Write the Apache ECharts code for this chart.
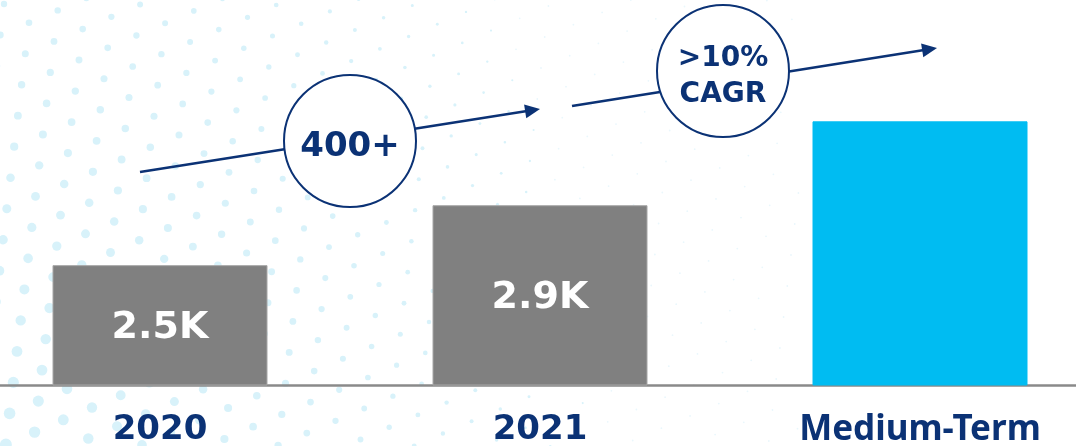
<!DOCTYPE html>
<html>
<head>
<meta charset="utf-8">
<script src="https://cdn.jsdelivr.net/npm/echarts@6/dist/echarts.min.js"></script>
<style>
  html, body { margin: 0; padding: 0; background: #fff; }
  #chart { width: 1076px; height: 446px; }
</style>
</head>
<body>
<div id="chart"></div>
<script>
// chart data
const categories = ["2020", "2021", "Medium-Term"];
const values = [2.5, 2.9, 3.46]; // thousands
const valueLabels = ["2.5K", "2.9K", ""];
const barColors = ["#808080", "#808080", "#00bcf2"];
const growthNotes = ["400+", ">10%\nCAGR"];

const NAVY = "#0b3275";

const chart = echarts.init(document.getElementById("chart"));

// background dot pattern (decoration only)
const buildDots = () => {
  const dots = [];
  const a = [25, 18.7];
  const b = [28.7, -12.3];
  for (let i = -30; i < 40; i++) {
    for (let j = -30; j < 50; j++) {
      const x = 4 + i * a[0] + j * b[0];
      const y = 4 + i * a[1] + j * b[1];
      if (x < -6 || x > 1080 || y < -6 || y > 450) continue;
      const d = Math.sqrt(x * x + (446 - y) * (446 - y) * 0.55);
      let r = 6 - d * 0.0085;
      let fill = "#d8f2fa";
      if (r < 1) {
        if (x > 800) continue;
        r = 0.9;
        fill = "#eaf7fc";
      }
      dots.push({
        type: "circle",
        silent: true,
        z: 0,
        shape: { cx: x, cy: y, r: r },
        style: { fill: fill }
      });
    }
  }
  return dots;
};

// arrow with a circled note
const buildArrow = (x1, y1, x2, y2, cx, cy, note, size, lh) => {
  const len = Math.hypot(x2 - x1, y2 - y1);
  const ux = (x2 - x1) / len;
  const uy = (y2 - y1) / len;
  const bx = x2 - ux * 15;
  const by = y2 - uy * 15;
  return [
    {
      type: "line",
      silent: true,
      z: 100,
      shape: { x1: x1, y1: y1, x2: bx + ux * 2, y2: by + uy * 2 },
      style: { stroke: NAVY, lineWidth: 2.6 }
    },
    {
      type: "polygon",
      silent: true,
      z: 100,
      shape: {
        points: [
          [x2, y2],
          [bx - uy * 7, by + ux * 7],
          [bx + uy * 7, by - ux * 7]
        ]
      },
      style: { fill: NAVY }
    },
    {
      type: "circle",
      silent: true,
      z: 101,
      shape: { cx: cx, cy: cy, r: 66 },
      style: { fill: "#fff", stroke: NAVY, lineWidth: 2 }
    },
    {
      type: "text",
      silent: true,
      z: 102,
      x: cx,
      y: cy + 6,
      style: {
        text: note,
        fill: NAVY,
        font: "bold " + size + "px 'DejaVu Sans', sans-serif",
        lineHeight: lh,
        align: "center",
        verticalAlign: "middle"
      }
    }
  ];
};

const option = {
  animation: false,
  backgroundColor: "#fff",
  grid: {
    left: -30,
    right: -34,
    top: 0,
    bottom: 61,
    containLabel: false,
    outerBoundsMode: "none"
  },
  xAxis: {
    type: "category",
    data: categories,
    axisTick: { show: false },
    axisLine: { lineStyle: { color: "#8a8a8a", width: 2.5 } },
    axisLabel: {
      interval: 0,
      margin: 28,
      formatter: (v) => (/^\d+$/.test(v) ? "{d|" + v + "}" : "{t|" + v + "}"),
      rich: {
        d: {
          color: NAVY,
          fontSize: 34,
          lineHeight: 35,
          fontWeight: "bold",
          fontFamily: "DejaVu Sans"
        },
        t: {
          color: NAVY,
          fontSize: 35,
          lineHeight: 35,
          fontWeight: "bold",
          fontFamily: "Noto Sans"
        }
      }
    }
  },
  yAxis: {
    type: "value",
    min: 1.7,
    max: 4.27,
    show: false,
    splitLine: { show: false }
  },
  series: [
    {
      type: "bar",
      barWidth: 215,
      z: 2,
      data: values.map((v, i) => ({
        value: v,
        itemStyle: {
          color: barColors[i],
          borderColor: i < 2 ? "#a6a6a6" : barColors[i],
          borderWidth: 1
        }
      })),
      label: {
        show: true,
        position: "inside",
        offset: [0, 3],
        color: "#fff",
        fontSize: 38,
        fontWeight: "bold",
        fontFamily: "DejaVu Sans",
        formatter: (p) => valueLabels[p.dataIndex]
      }
    }
  ],
  graphic: [
    ...buildDots(),
    ...buildArrow(140, 172, 540, 109, 350, 141, growthNotes[0], 34, 36),
    ...buildArrow(572, 106, 937, 48, 723, 71, growthNotes[1], 28, 36)
  ]
};

chart.setOption(option);
</script>
</body>
</html>
